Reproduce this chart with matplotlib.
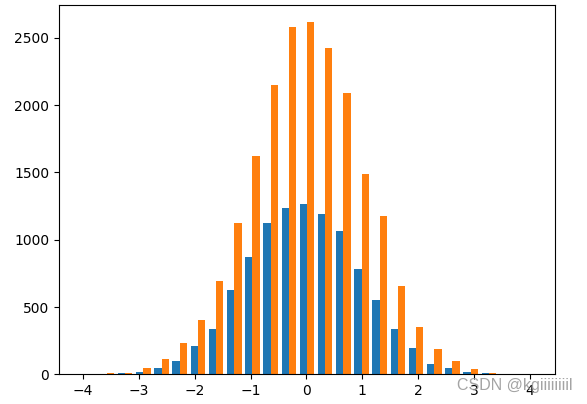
import numpy as np
import matplotlib
matplotlib.use("Agg")
import matplotlib.pyplot as plt

# histogram range and counts
bin_lo = -4.06
bin_hi = 4.08
n_bins = 25
blue_counts = [1, 1, 6, 20, 45, 100, 211, 334, 623, 872, 1127, 1238, 1267,
               1193, 1067, 786, 549, 333, 193, 76, 44, 17, 12, 2, 0]
orange_counts = [0, 8, 9, 50, 112, 230, 400, 694, 1125, 1622, 2150, 2580, 2614,
                 2422, 2091, 1489, 1178, 659, 355, 187, 98, 37, 12, 3, 1]

edges = np.linspace(bin_lo, bin_hi, n_bins + 1)
centers = (edges[:-1] + edges[1:]) / 2

fig = plt.figure(figsize=(5.87, 4.04), dpi=100)
ax = fig.add_axes([0.1005, 0.0735, 0.845, 0.9145])
ax.hist([centers, centers], bins=edges, weights=[blue_counts, orange_counts],
        color=["#1f77b4", "#ff7f0e"])
ax.set_xticks([-4, -3, -2, -1, 0, 1, 2, 3, 4])
ax.set_yticks([0, 500, 1000, 1500, 2000, 2500])

fig.text(0.976, 0.047, "CSDN @kgiiiiiiiil", ha="right", va="center",
         fontsize=11.5, color="#9a9a9a", alpha=0.9, family="Liberation Sans")

fig.savefig("out.png", dpi=100)
